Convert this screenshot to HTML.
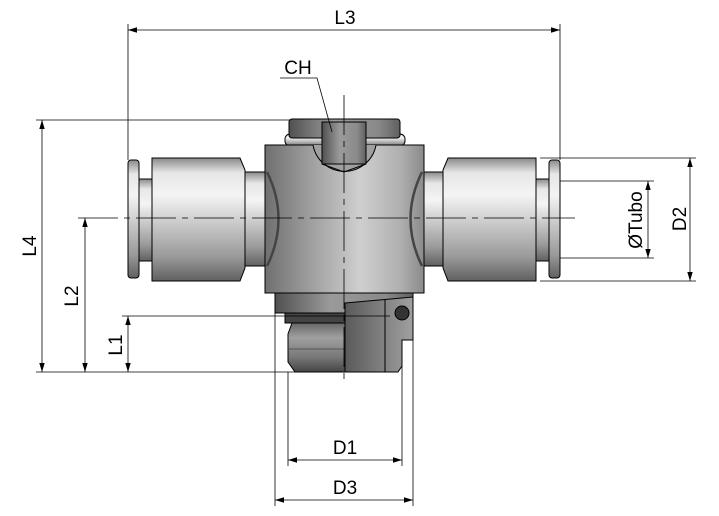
<!DOCTYPE html>
<html><head><style>html,body{margin:0;padding:0;background:#fff}svg{display:block}</style></head><body>
<svg width="719" height="516" viewBox="0 0 719 516" xmlns="http://www.w3.org/2000/svg" font-family="'Liberation Sans', sans-serif">
<defs>
<linearGradient id="cyl" x1="0" y1="0" x2="0" y2="1">
<stop offset="0" stop-color="#8a8a8a"/><stop offset="0.12" stop-color="#e6e6e6"/><stop offset="0.3" stop-color="#f4f4f4"/><stop offset="0.5" stop-color="#d0d0d0"/><stop offset="0.8" stop-color="#9a9a9a"/><stop offset="1" stop-color="#606060"/></linearGradient>
<linearGradient id="body" x1="0" y1="0" x2="1" y2="0">
<stop offset="0" stop-color="#707070"/><stop offset="0.35" stop-color="#a8a8a8"/><stop offset="0.6" stop-color="#cfcfcf"/><stop offset="0.85" stop-color="#b0b0b0"/><stop offset="1" stop-color="#8a8a8a"/></linearGradient>
<linearGradient id="nut" x1="0" y1="0" x2="1" y2="0">
<stop offset="0" stop-color="#505050"/><stop offset="0.4" stop-color="#9a9a9a"/><stop offset="0.8" stop-color="#8a8a8a"/><stop offset="1" stop-color="#606060"/></linearGradient>
<linearGradient id="nut2" x1="0" y1="0" x2="0" y2="1">
<stop offset="0" stop-color="#666"/><stop offset="0.3" stop-color="#a0a0a0"/><stop offset="0.7" stop-color="#777"/><stop offset="1" stop-color="#444"/></linearGradient>
<linearGradient id="cut" x1="0" y1="0" x2="1" y2="0">
<stop offset="0" stop-color="#5a5a5a"/><stop offset="1" stop-color="#a0a0a0"/></linearGradient>
<marker id="a" viewBox="0 0 10 10" refX="10" refY="5" markerWidth="9" markerHeight="9" orient="auto-start-reverse" markerUnits="userSpaceOnUse"><path d="M0,2 L10,5 L0,8 z" fill="#000"/></marker>
</defs>
<g stroke="#000" stroke-width="1" fill="url(#cyl)">
<rect x="128" y="160" width="11" height="118" rx="3"/>
<rect x="139" y="179" width="13" height="82"/>
<path d="M152,158 H240 L245,170 V268 L240,281 H152 Z"/>
<rect x="245" y="172" width="22" height="94"/>
<rect x="549" y="160" width="11" height="118" rx="3"/>
<rect x="536" y="179" width="13" height="82"/>
<path d="M536,158 H448 L443,170 V268 L448,281 H536 Z"/>
<rect x="421" y="172" width="22" height="94"/>
<rect x="285" y="134" width="120" height="12" rx="5"/>
<rect x="289" y="119" width="111" height="19" rx="3" fill="url(#nut)"/>
<rect x="265" y="145" width="159" height="148" fill="url(#body)"/>
<path d="M267,172 Q290,219 267,266" fill="none" stroke="#444" stroke-width="2.5"/>
<path d="M422,172 Q399,219 422,266" fill="none" stroke="#444" stroke-width="2.5"/>
<path d="M313,145 A32,32 0 0 0 376,145" fill="#a0a0a0"/>
<rect x="322" y="122" width="44" height="42" fill="url(#nut)"/>
<path d="M322,164 L344,172 L366,164" fill="none"/>
<rect x="275" y="293" width="138" height="20" fill="url(#nut)"/>
<rect x="285" y="313" width="60" height="10" fill="#444"/>
<path d="M292,323 H345 V372 H295 L288,362 V334 Z" fill="url(#nut2)"/>
<line x1="289" y1="349" x2="345" y2="349" stroke="#555"/>
<path d="M345,303 L413,297 V340 L402,340 V366 L398,372 H345 Z" fill="url(#cut)"/>
<path d="M385,300 V372" fill="none"/>
<circle cx="402" cy="313" r="7" fill="#333"/>
</g>
<g stroke="#000" stroke-width="0.8" fill="none">
<line x1="78" y1="218" x2="575" y2="218" stroke-dasharray="40,6,6,6"/>
<line x1="344" y1="95" x2="344" y2="380" stroke-dasharray="40,6,6,6"/>
<line x1="128" y1="24" x2="128" y2="160"/><line x1="560" y1="24" x2="560" y2="160"/>
<line x1="36" y1="120" x2="290" y2="120"/><line x1="36" y1="372" x2="345" y2="372"/>
<line x1="122" y1="316" x2="390" y2="316"/>
<line x1="540" y1="158" x2="696" y2="158"/><line x1="540" y1="281" x2="696" y2="281"/>
<line x1="560" y1="181" x2="654" y2="181"/><line x1="560" y1="258" x2="654" y2="258"/>
<line x1="288" y1="372" x2="288" y2="466"/><line x1="402" y1="340" x2="402" y2="466"/>
<line x1="275" y1="313" x2="275" y2="506"/><line x1="413" y1="297" x2="413" y2="506"/>
<line x1="128" y1="30" x2="560" y2="30" marker-start="url(#a)" marker-end="url(#a)"/>
<line x1="42" y1="120" x2="42" y2="372" marker-start="url(#a)" marker-end="url(#a)"/>
<line x1="85" y1="218" x2="85" y2="372" marker-start="url(#a)" marker-end="url(#a)"/>
<line x1="128" y1="316" x2="128" y2="372" marker-start="url(#a)" marker-end="url(#a)"/>
<line x1="690" y1="158" x2="690" y2="281" marker-start="url(#a)" marker-end="url(#a)"/>
<line x1="648" y1="181" x2="648" y2="258" marker-start="url(#a)" marker-end="url(#a)"/>
<line x1="288" y1="460" x2="402" y2="460" marker-start="url(#a)" marker-end="url(#a)"/>
<line x1="275" y1="500" x2="413" y2="500" marker-start="url(#a)" marker-end="url(#a)"/>
<polyline points="280,78 317,78 332,132"/>
</g>
<g font-size="19" fill="#000" text-anchor="middle">
<text x="345" y="24">L3</text>
<text x="298" y="74">CH</text>
<text x="345" y="454">D1</text>
<text x="345" y="494">D3</text>
<text transform="translate(36,246) rotate(-90)">L4</text>
<text transform="translate(78,296) rotate(-90)">L2</text>
<text transform="translate(122,345) rotate(-90)">L1</text>
<text transform="translate(686,219) rotate(-90)">D2</text>
<text transform="translate(642,220) rotate(-90)">ØTubo</text>
</g>
</svg>
</body></html>
